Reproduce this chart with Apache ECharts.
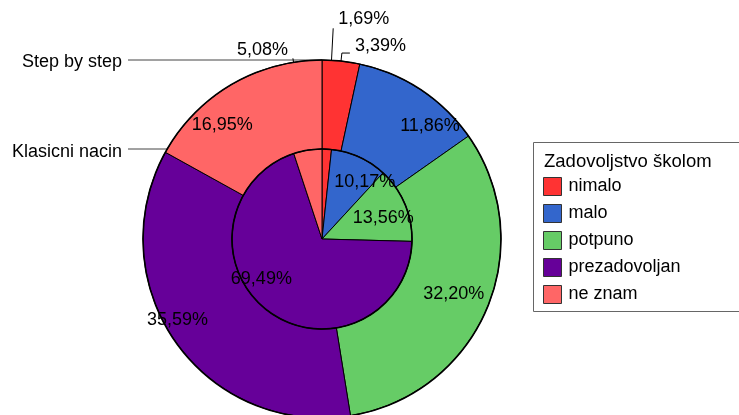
<!DOCTYPE html>
<html>
<head>
<meta charset="utf-8">
<script src="https://cdn.jsdelivr.net/npm/echarts@6/dist/echarts.min.js"></script>
<style>
    html, body { margin: 0; padding: 0; background: #fff; }
    #chart { width: 739px; height: 415px; }
</style>
</head>
<body>
<div id="chart"></div>
<script>
    // kategorije i vrijednosti (postoci)
    const categories = ['nimalo', 'malo', 'potpuno', 'prezadovoljan', 'ne znam'];
    const klasicniNacin = [1.69, 10.17, 13.56, 69.49, 5.08];
    const stepByStep = [3.39, 11.86, 32.20, 35.59, 16.95];
    const seriesNames = ['Klasicni nacin', 'Step by step'];
    const legendTitle = 'Zadovoljstvo školom';

    const colors = ['#ff3333', '#3366cc', '#66cc66', '#660099', '#ff6666'];
    const font = 'Liberation Sans, Arial, sans-serif';
    const center = [322, 239];
    const innerR = 90;
    const outerR = 179;

    const fmt = p => p.value.toFixed(2).replace('.', ',') + '%';

    // pomaci natpisa (unutarnji) i vodilice (vanjski)
    const innerLabels = [
        {position: 'outside', offset: [0, -9], line: {show: true, length: 121, length2: 0}},
        {offset: [23, -13]},
        {offset: [17, -2]},
        {offset: [-32, 2]},
        {position: 'outside', offset: [0, -8], line: {show: true, length: 93, length2: 0}}
    ];
    const outerLabels = [
        {position: 'outside', offset: [0, -7], line: {show: true, length: 8, length2: 8}},
        {offset: [32, 2]},
        {offset: [5, 2]},
        {offset: [-32, 2]},
        {offset: [-30, 4]}
    ];

    function buildData(values, labels) {
        return values.map((v, i) => {
            const l = labels[i];
            return {
                name: categories[i],
                value: v,
                label: {
                    position: l.position || 'inside',
                    offset: l.offset || [0, 0]
                },
                labelLine: l.line || {show: false}
            };
        });
    }

    const baseSeries = {
        type: 'pie',
        center: center,
        clockwise: true,
        startAngle: 90,
        avoidLabelOverlap: false,
        animation: false,
        emphasis: {disabled: true},
        itemStyle: {borderColor: '#000', borderWidth: 1},
        label: {
            formatter: fmt,
            color: '#000',
            fontSize: 18,
            fontFamily: font
        },
        labelLine: {lineStyle: {color: '#000', width: 1}}
    };

    const chart = echarts.init(document.getElementById('chart'), null, {renderer: 'canvas'});
    chart.setOption({
        backgroundColor: '#fff',
        color: colors,
        animation: false,
        legend: {
            data: categories,
            orient: 'vertical',
            left: 543,
            top: 177,
            padding: 0,
            itemWidth: 18,
            itemHeight: 18,
            itemGap: 8,
            selectedMode: false,
            icon: 'rect',
            itemStyle: {borderColor: '#333', borderWidth: 1},
            textStyle: {fontSize: 18, fontFamily: font, color: '#000', padding: [0, 0, 0, 2]}
        },
        graphic: [
            {type: 'rect', shape: {x: 533.5, y: 142.5, width: 210, height: 169},
                style: {fill: null, stroke: '#666', lineWidth: 1}},
            {type: 'text', x: 544, y: 162,
                style: {text: legendTitle, font: '18.5px ' + font, fill: '#000', verticalAlign: 'middle'}},
            {type: 'text', x: 122, y: 62,
                style: {text: seriesNames[1], font: '18px ' + font, fill: '#000', align: 'right', verticalAlign: 'middle'}},
            {type: 'line', shape: {x1: 128, y1: center[1] - outerR, x2: center[0], y2: center[1] - outerR},
                style: {stroke: '#444', lineWidth: 1}, z: 0},
            {type: 'text', x: 122, y: 152,
                style: {text: seriesNames[0], font: '18px ' + font, fill: '#000', align: 'right', verticalAlign: 'middle'}},
            {type: 'line', shape: {x1: 128, y1: center[1] - innerR, x2: center[0], y2: center[1] - innerR},
                style: {stroke: '#444', lineWidth: 1}, z: 0},
            // deblji obrub prstena i unutarnjeg kruga
            {type: 'circle', shape: {cx: center[0], cy: center[1], r: outerR},
                style: {fill: null, stroke: '#000', lineWidth: 1.6}, z: 5},
            {type: 'circle', shape: {cx: center[0], cy: center[1], r: innerR},
                style: {fill: null, stroke: '#000', lineWidth: 1.6}, z: 5}
        ],
        series: [
            Object.assign({}, baseSeries, {
                name: seriesNames[1],
                radius: [innerR, outerR],
                data: buildData(stepByStep, outerLabels)
            }),
            Object.assign({}, baseSeries, {
                name: seriesNames[0],
                radius: [0, innerR],
                data: buildData(klasicniNacin, innerLabels)
            })
        ]
    });
</script>
</body>
</html>
